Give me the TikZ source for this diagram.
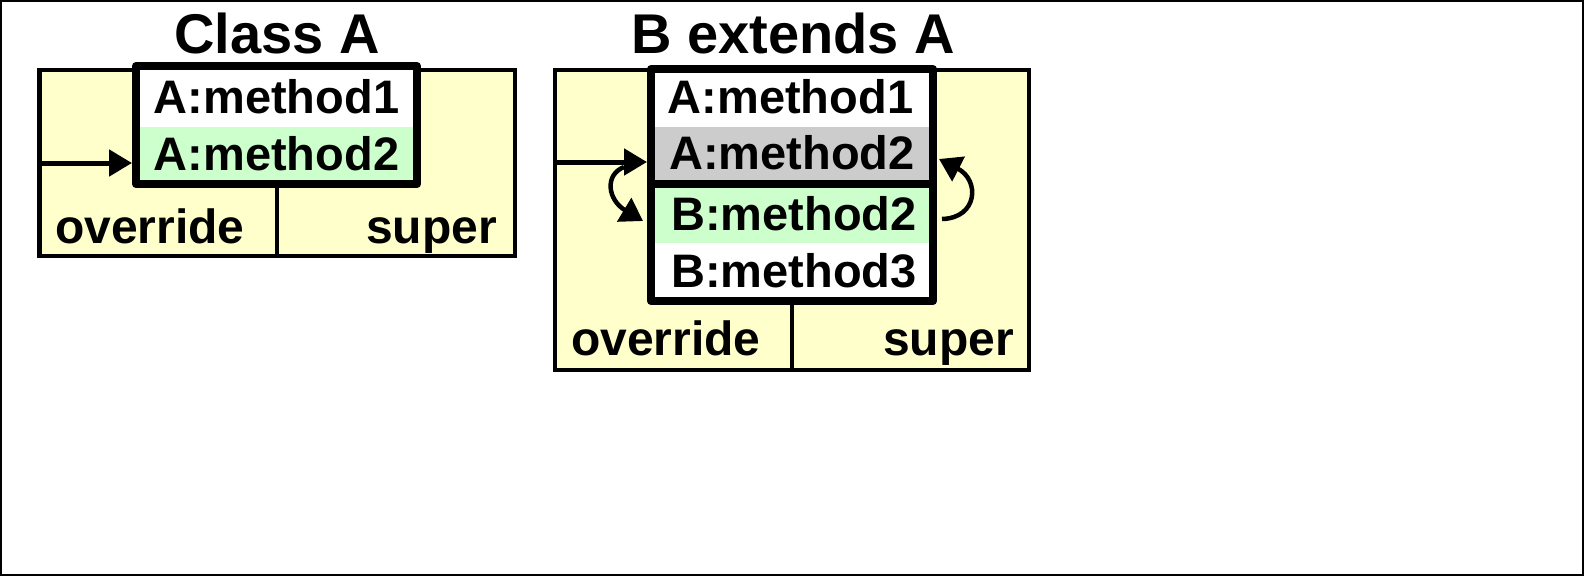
\documentclass[tikz,border=0pt]{standalone}
\usepackage{fontspec}
\setmainfont{Liberation Sans}
\usetikzlibrary{arrows.meta}
\definecolor{paleyellow}{RGB}{255,255,204}
\definecolor{palegreen}{RGB}{204,255,204}
\definecolor{palegray}{RGB}{204,204,204}
\begin{document}
\begin{tikzpicture}[x=1pt,y=-1pt,
  outerbox/.style={draw=black, line width=4.5pt, fill=paleyellow, rectangle, inner sep=0pt, outer sep=0pt},
  rowbox/.style={rectangle, draw=none, inner sep=0pt, outer sep=0pt},
  thickbox/.style={draw=black, line width=8pt, rectangle, inner sep=0pt, outer sep=4pt, line join=round},
  divline/.style={line width=4.5pt},
  septhick/.style={line width=8pt},
  mtext/.style={font=\fontsize{47}{47}\selectfont\bfseries, inner sep=0pt},
  ltext/.style={font=\fontsize{48}{48}\selectfont\bfseries, inner sep=0pt},
  ttext/.style={font=\fontsize{56}{56}\selectfont\bfseries, inner sep=0pt, anchor=base},
  arr/.style={line width=5pt, -{Triangle[length=23pt,width=26pt]}},
  carr/.style={line width=4.5pt, -{Triangle[length=22pt,width=27pt]}},
]
\useasboundingbox (0,0) rectangle (1584,576);
\draw[line width=2pt] (1,1) rectangle (1583,575);

% ---------------- Class A ----------------
\node[ttext] (titleA) at (277,53) {Class A};
\node[outerbox, minimum width=475.5, minimum height=186] (outerA) at (277.25,163) {};
\node[rowbox, fill=white, minimum width=281, minimum height=61] (A1) at (276.5,96.5) {};
\node[rowbox, fill=palegreen, minimum width=281, minimum height=57] (A2) at (276.5,155.5) {};
\node[thickbox, minimum width=281, minimum height=118] (innerA) at (276.5,125) {};
\coordinate (divAtop) at (277,188);
\coordinate (divAbot) at (277,256);
\draw[divline] (divAtop) -- (divAbot);
\node[mtext, anchor=base] (tA1) at (276.5,113) {A:method1};
\node[mtext, anchor=base] (tA2) at (276.5,170) {A:method2};
\node[ltext, anchor=base west] (ovA) at (55,243) {override};
\node[ltext, anchor=base east] (spA) at (497,243) {super};
\coordinate (entryA) at (39.5,163);
\draw[arr] (entryA) -- (entryA -| innerA.west);

% ---------------- B extends A ----------------
\node[ttext] (titleB) at (793,53) {B extends A};
\node[outerbox, minimum width=474, minimum height=300] (outerB) at (792,220) {};
\node[rowbox, fill=white, minimum width=282, minimum height=58] (B1) at (792,98) {};
\node[rowbox, fill=palegray, minimum width=282, minimum height=57] (B2) at (792,155.5) {};
\node[rowbox, fill=palegreen, minimum width=282, minimum height=59] (B3) at (792,213.5) {};
\node[rowbox, fill=white, minimum width=282, minimum height=58] (B4) at (792,272) {};
\node[thickbox, minimum width=282, minimum height=232] (innerB) at (792,185) {};
\draw[septhick] (innerB.west |- 0,184) -- (innerB.east |- 0,184);
\coordinate (divBtop) at (792,305);
\coordinate (divBbot) at (792,370);
\draw[divline] (divBtop) -- (divBbot);
\node[mtext, anchor=base] (tB1) at (790.5,113) {A:method1};
\node[mtext, anchor=base] (tB2) at (792,169) {A:method2};
\node[mtext, anchor=base] (tB3) at (794,230) {B:method2};
\node[mtext, anchor=base] (tB4) at (794,287) {B:method3};
\node[ltext, anchor=base west] (ovB) at (571,355) {override};
\node[ltext, anchor=base east] (spB) at (1014,355) {super};
\coordinate (entryB) at (555,162);
\draw[arr] (entryB) -- (entryB -| innerB.west);

% curved arrows
\coordinate (lstart) at (624,167);
\coordinate (lend) at (643,221);
\draw[carr] (lstart) .. controls (604,175) and (608,200) .. (lend);
\coordinate (rstart) at (942,219);
\coordinate (rend) at (939,159);
\draw[carr] (rstart) .. controls (978,218) and (980,180) .. (rend);
\end{tikzpicture}
\end{document}
